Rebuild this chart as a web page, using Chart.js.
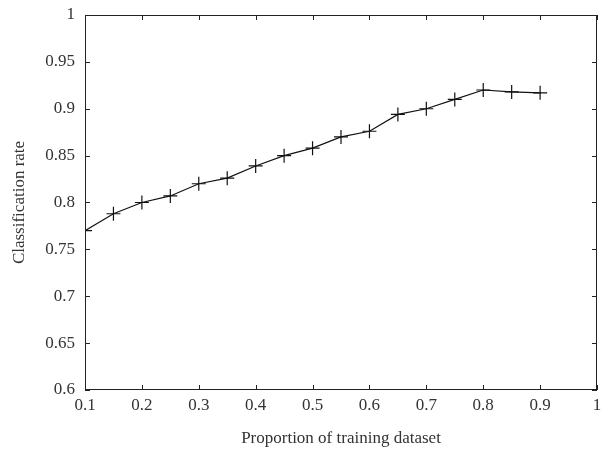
<!DOCTYPE html>
<html>
<head>
<meta charset="utf-8">
<script src="https://cdn.jsdelivr.net/npm/chart.js@4.4.0/dist/chart.umd.min.js"></script>
<style>
  body { margin: 0; background: #fff; }
  #wrap { width: 609px; height: 453px; }
</style>
</head>
<body>
<div id="wrap"><canvas id="grafica"></canvas></div>
<script>
// proporcion del dataset de entrenamiento y tasa de clasificacion
var proporciones = [0.1, 0.15, 0.2, 0.25, 0.3, 0.35, 0.4, 0.45, 0.5, 0.55, 0.6, 0.65, 0.7, 0.75, 0.8, 0.85, 0.9];
var tasas = [0.770, 0.788, 0.800, 0.807, 0.820, 0.826, 0.839, 0.850, 0.858, 0.870, 0.876, 0.894, 0.900, 0.910, 0.920, 0.918, 0.917];
var ticksX = [0.1, 0.2, 0.3, 0.4, 0.5, 0.6, 0.7, 0.8, 0.9, 1];
var ticksY = [0.6, 0.65, 0.7, 0.75, 0.8, 0.85, 0.9, 0.95, 1];

var fuente = "'Liberation Serif', 'DejaVu Serif', serif";

function etiqueta(v) {
    return String(Number(v.toFixed(2)));
}

// marco y marcas hacia dentro, como en la figura original
var marcoPlugin = {
    id: 'marco',
    afterDraw: function(chart) {
        var ctx = chart.ctx, a = chart.chartArea;
        var sx = chart.scales.x, sy = chart.scales.y;
        var largo = 5;
        ctx.save();
        ctx.strokeStyle = '#222';
        ctx.lineWidth = 1;
        ctx.strokeRect(a.left + 0.5, a.top + 0.5, a.right - a.left - 1, a.bottom - a.top - 1);
        ctx.beginPath();
        ticksX.forEach(function(v) {
            var px = Math.round(sx.getPixelForValue(v)) + 0.5;
            ctx.moveTo(px, a.bottom); ctx.lineTo(px, a.bottom - largo);
            ctx.moveTo(px, a.top); ctx.lineTo(px, a.top + largo);
        });
        ticksY.forEach(function(v) {
            var py = Math.round(sy.getPixelForValue(v)) + 0.5;
            ctx.moveTo(a.left, py); ctx.lineTo(a.left + largo, py);
            ctx.moveTo(a.right, py); ctx.lineTo(a.right - largo, py);
        });
        ctx.stroke();
        ctx.restore();
    }
};

var datos = proporciones.map(function(p, i) { return { x: p, y: tasas[i] }; });

var chart = new Chart(document.getElementById('grafica').getContext('2d'), {
    type: 'line',
    data: {
        datasets: [{
            data: datos,
            borderColor: '#111',
            borderWidth: 1.2,
            pointStyle: 'cross',
            pointRadius: 7,
            pointBorderColor: '#111',
            pointBorderWidth: 1.2,
            fill: false,
            tension: 0
        }]
    },
    options: {
        responsive: true,
        maintainAspectRatio: false,
        animation: false,
        layout: { padding: { top: 15, right: 12, left: 0, bottom: 0 } },
        plugins: { legend: { display: false }, tooltip: { enabled: false } },
        scales: {
            x: {
                type: 'linear',
                min: 0.1, max: 1,
                afterBuildTicks: function(s) { s.ticks = ticksX.map(function(v) { return { value: v }; }); },
                afterFit: function(s) { s.height = 63; s.paddingRight = 0; s.paddingLeft = 0; },
                grid: { display: false, drawTicks: false },
                border: { display: false },
                ticks: {
                    padding: 5, maxRotation: 0, autoSkip: false,
                    color: '#333', font: { family: fuente, size: 17 },
                    callback: etiqueta
                },
                title: {
                    display: true, text: 'Proportion of training dataset',
                    color: '#333', font: { family: fuente, size: 17 },
                    padding: { top: 8, bottom: 4 }
                }
            },
            y: {
                type: 'linear',
                min: 0.6, max: 1,
                afterBuildTicks: function(s) { s.ticks = ticksY.map(function(v) { return { value: v }; }); },
                afterFit: function(s) { s.width = 85; s.paddingTop = 0; s.paddingBottom = 0; },
                grid: { display: false, drawTicks: false },
                border: { display: false },
                ticks: {
                    padding: 10, autoSkip: false,
                    color: '#333', font: { family: fuente, size: 17 },
                    callback: etiqueta
                },
                title: {
                    display: true, text: 'Classification rate',
                    color: '#333', font: { family: fuente, size: 17 },
                    padding: { top: 9, bottom: 6 }
                }
            }
        }
    },
    plugins: [marcoPlugin]
});
</script>
</body>
</html>
